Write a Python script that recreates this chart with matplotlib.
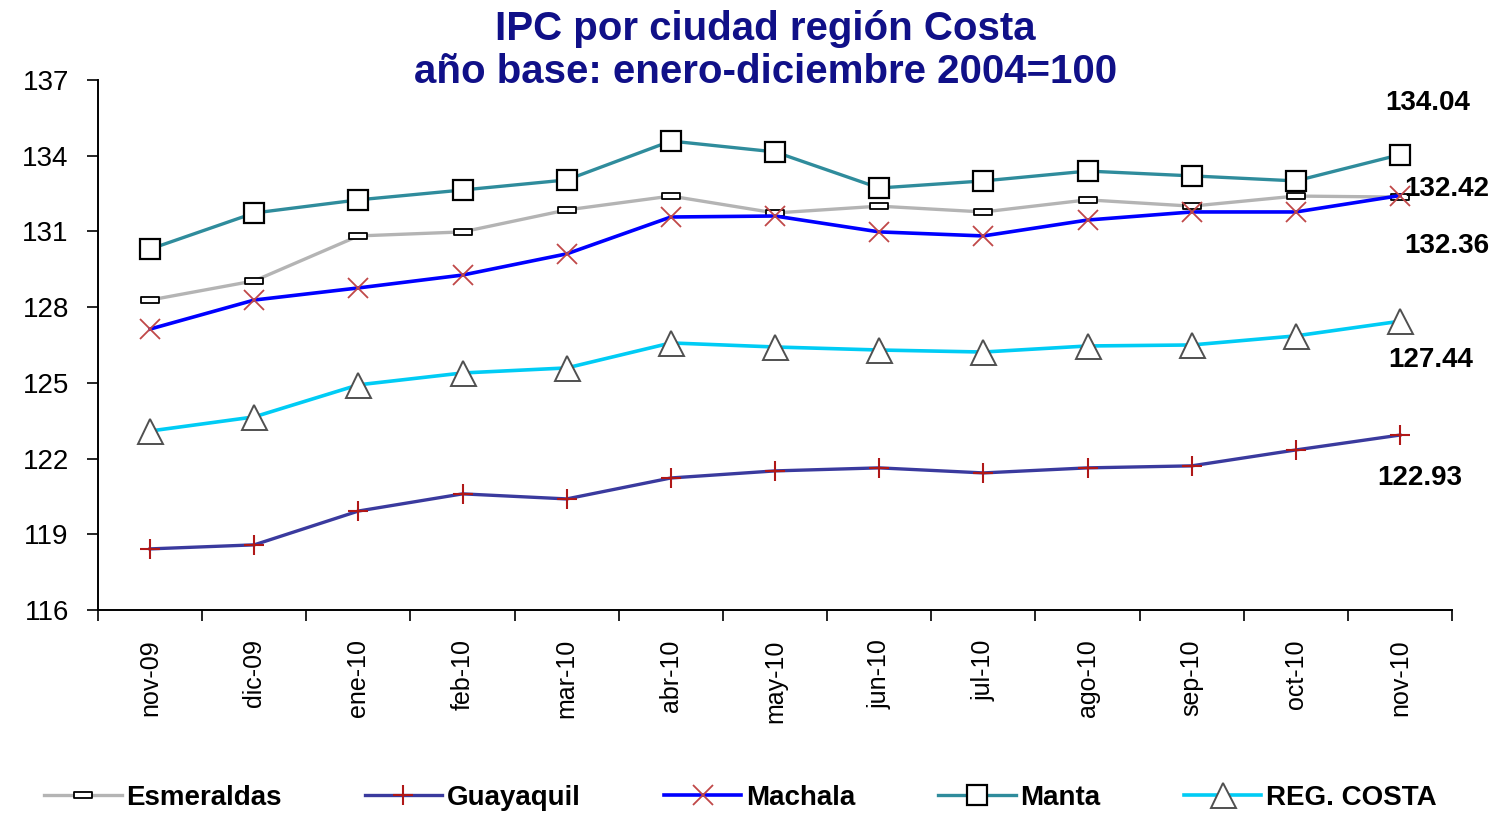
import numpy as np
import matplotlib
matplotlib.use("Agg")
import matplotlib.pyplot as plt
from matplotlib.path import Path

# data
months = ["nov-09", "dic-09", "ene-10", "feb-10", "mar-10", "abr-10", "may-10",
          "jun-10", "jul-10", "ago-10", "sep-10", "oct-10", "nov-10"]
esmeraldas = [128.28, 129.04, 130.82, 130.98, 131.85, 132.40, 131.73, 132.00, 131.77, 132.25, 132.00, 132.40, 132.36]
guayaquil = [118.42, 118.58, 119.92, 120.60, 120.40, 121.23, 121.51, 121.63, 121.43, 121.63, 121.71, 122.34, 122.93]
machala = [127.13, 128.28, 128.76, 129.27, 130.11, 131.57, 131.61, 130.98, 130.82, 131.45, 131.77, 131.77, 132.42]
manta = [130.30, 131.73, 132.25, 132.64, 133.04, 134.58, 134.15, 132.72, 133.00, 133.39, 133.20, 133.00, 134.04]
reg_costa = [123.09, 123.65, 124.92, 125.39, 125.59, 126.58, 126.42, 126.30, 126.22, 126.46, 126.50, 126.86, 127.44]

plt.rcParams['font.family'] = ['Liberation Sans', 'DejaVu Sans']

fig = plt.figure(figsize=(15.01, 8.16), dpi=100)
ax = fig.add_axes([0.0653, 0.2525, 0.9021, 0.6495])
x = np.arange(len(months))

flat_box = Path([(-1, -0.28), (1, -0.28), (1, 0.28), (-1, 0.28), (-1, -0.28)],
                [Path.MOVETO, Path.LINETO, Path.LINETO, Path.LINETO, Path.CLOSEPOLY])

ax.plot(x, esmeraldas, color="#b4b4b4", lw=2.4, marker=flat_box, ms=13,
        mfc="white", mec="black", mew=1.3, label="Esmeraldas")
ax.plot(x, guayaquil, color="#3a3a9e", lw=2.4, marker="+", ms=14,
        mec="#b01818", mew=1.5, label="Guayaquil")
ax.plot(x, machala, color="#0000ff", lw=2.6, marker="x", ms=14,
        mec="#c04848", mew=1.3, label="Machala")
ax.plot(x, manta, color="#2f8c9c", lw=2.4, marker="s", ms=15,
        mfc="white", mec="black", mew=1.6, label="Manta")
ax.plot(x, reg_costa, color="#00ccf5", lw=2.6, marker="^", ms=18,
        mfc="white", mec="#505050", mew=1.4, label="REG. COSTA")

# end-of-series value labels
labels = [(manta[-1], (20, 37)), (machala[-1], (34, 5)), (esmeraldas[-1], (34, -35)),
          (reg_costa[-1], (22, -28)), (guayaquil[-1], (14, -31))]
for v, off in labels:
    ax.annotate(f"{v:.2f}", xy=(x[-1], v), xytext=off, textcoords="offset points",
                ha="center", va="center", fontsize=20, fontweight="bold",
                annotation_clip=False)

ax.set_xlim(-0.5, len(months) - 0.5)
ax.set_ylim(116, 137)
ax.set_yticks(np.arange(116, 138, 3))
ax.set_xticks(x)
ax.set_xticklabels(months, rotation=90, fontsize=18)
ax.set_xticks(np.arange(-0.5, len(months), 1), minor=True)
ax.tick_params(axis="x", which="major", length=0, pad=21)
ax.tick_params(axis="x", which="minor", length=8, width=1.2)
ax.tick_params(axis="y", labelsize=20, length=8, width=1.2, pad=13)
for s in ["top", "right"]:
    ax.spines[s].set_visible(False)
for s in ["left", "bottom"]:
    ax.spines[s].set_linewidth(1.4)

fig.text(0.51, 0.964, "IPC por ciudad región Costa", ha="center", va="center",
         fontsize=29, fontweight="bold", color="#101088")
fig.text(0.51, 0.912, "año base: enero-diciembre 2004=100", ha="center", va="center",
         fontsize=29, fontweight="bold", color="#101088")

fig.legend(loc="center", bbox_to_anchor=(0.493, 0.022), ncol=5, frameon=False,
           handlelength=2.8, columnspacing=3.0, handletextpad=0.15,
           prop={"family": ["Liberation Sans Narrow", "Liberation Sans"], "weight": "bold", "size": 20})

fig.savefig("out.png", dpi=100)
